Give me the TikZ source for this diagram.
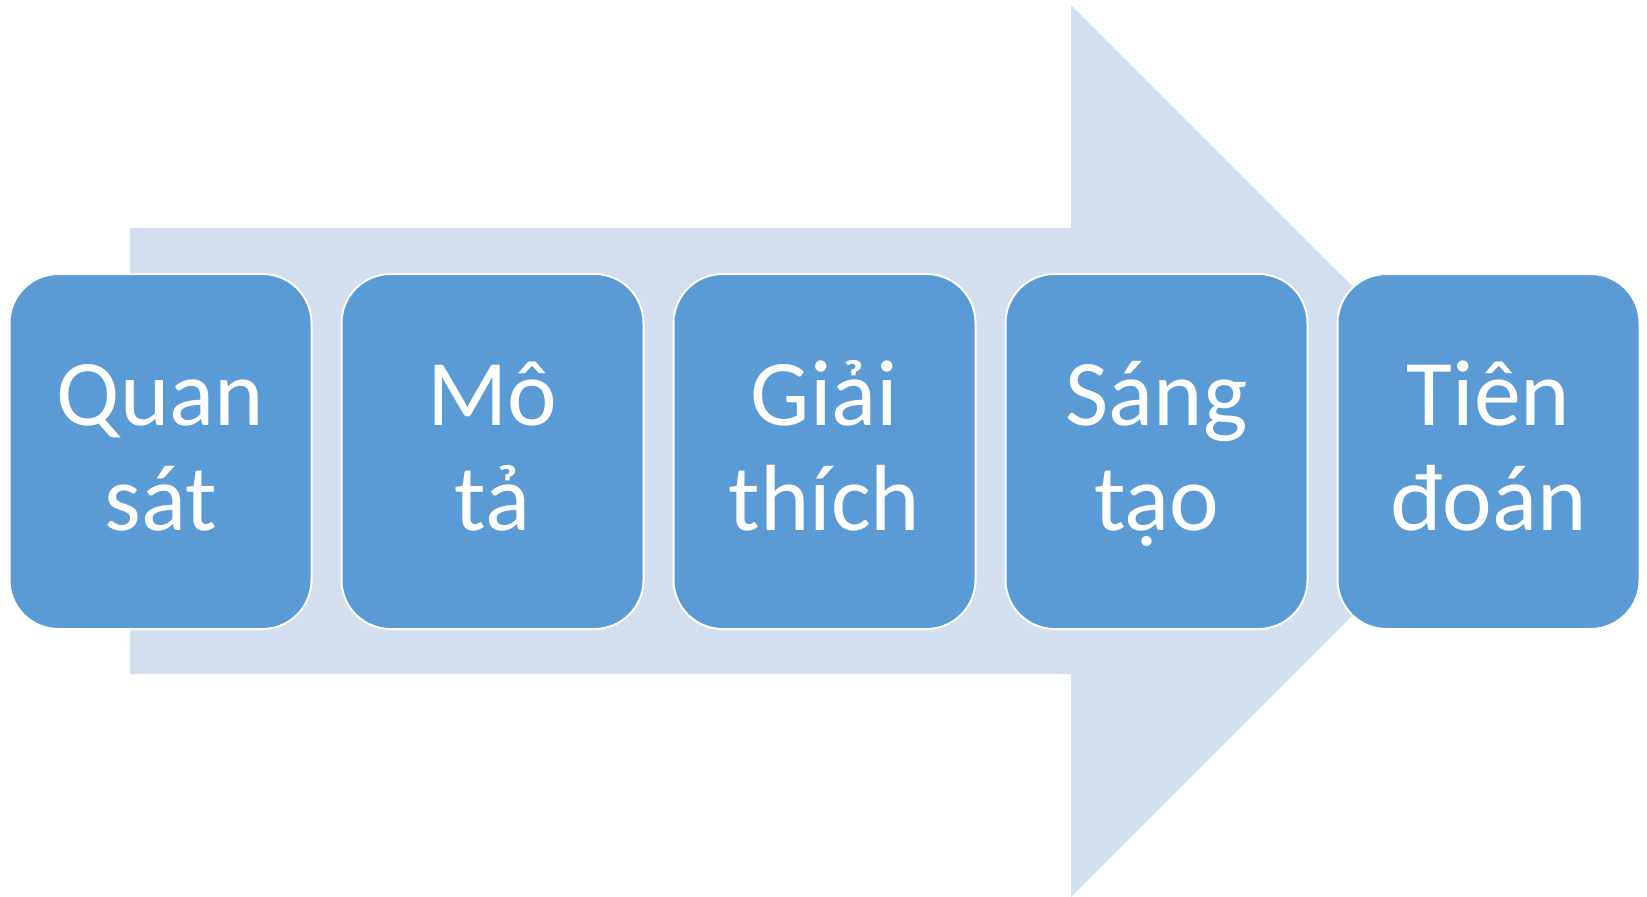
\documentclass[tikz,border=0pt]{standalone}
\usepackage{fontspec}
\setmainfont{Carlito}
\definecolor{boxblue}{HTML}{5B9BD5}
\definecolor{arrowblue}{HTML}{D3DFEF}
\begin{document}
\begin{tikzpicture}[x=1pt,y=-1pt,
  stepbox/.style={draw=white, line width=2pt, fill=boxblue, rounded corners=49pt,
    minimum width=302pt, minimum height=355pt, inner sep=0pt, text=white,
    font=\fontsize{94}{105}\selectfont, align=center, text height=157pt, text depth=0pt}]
\useasboundingbox (0,0) rectangle (1647,897);
\fill[arrowblue] (130,228) -- (1071,228) -- (1071,5) -- (1517,451) -- (1071,897) -- (1071,674) -- (130,674) -- cycle;
\node[stepbox] (b1) at (160.5,451.5) {Quan\\sát};
\node[stepbox] (b2) at (492.5,451.5) {Mô\\tả};
\node[stepbox] (b3) at (824.5,451.5) {Giải\\thích};
\node[stepbox] (b4) at (1156.5,451.5) {Sáng\\tạo};
\node[stepbox] (b5) at (1488.5,451.5) {Tiên\\đoán};
\end{tikzpicture}
\end{document}
